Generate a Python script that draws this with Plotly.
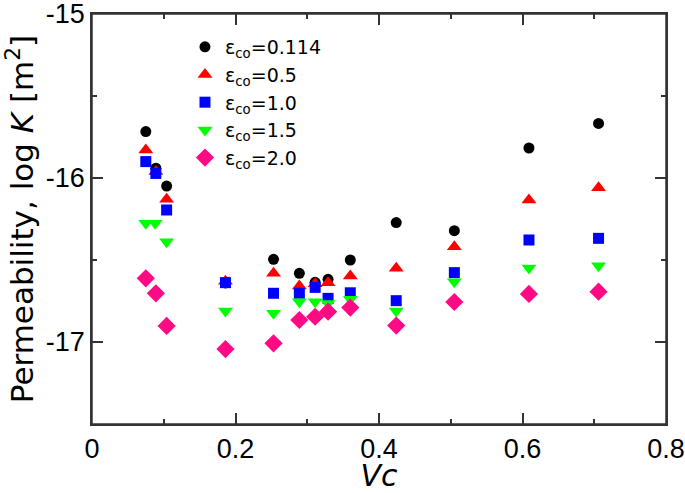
import plotly.graph_objects as go

# Data (Vc, log K)
vc_0114 = [0.075, 0.089, 0.104, 0.186, 0.253, 0.289, 0.311, 0.329, 0.360, 0.424, 0.505, 0.609, 0.706]
k_0114 = [-15.717, -15.94, -16.049, -16.64, -16.496, -16.581, -16.636, -16.618, -16.50, -16.272, -16.321, -15.817, -15.667]

vc_05 = [0.075, 0.089, 0.104, 0.186, 0.253, 0.289, 0.311, 0.329, 0.360, 0.424, 0.505, 0.609, 0.706]
k_05 = [-15.829, -15.96, -16.13, -16.63, -16.581, -16.659, -16.645, -16.638, -16.598, -16.551, -16.419, -16.134, -16.059]

vc_10 = [0.075, 0.089, 0.104, 0.186, 0.253, 0.289, 0.311, 0.329, 0.360, 0.424, 0.505, 0.609, 0.706]
k_10 = [-15.90, -15.972, -16.195, -16.638, -16.703, -16.703, -16.667, -16.734, -16.70, -16.748, -16.577, -16.378, -16.368]

vc_15 = [0.075, 0.088, 0.104, 0.186, 0.253, 0.289, 0.311, 0.329, 0.360, 0.424, 0.505, 0.609, 0.706]
k_15 = [-16.276, -16.276, -16.388, -16.811, -16.825, -16.754, -16.754, -16.765, -16.74, -16.811, -16.632, -16.549, -16.535]

vc_20 = [0.075, 0.089, 0.104, 0.186, 0.253, 0.289, 0.311, 0.329, 0.360, 0.424, 0.505, 0.609, 0.706]
k_20 = [-16.612, -16.703, -16.902, -17.043, -17.008, -16.866, -16.846, -16.815, -16.79, -16.90, -16.756, -16.707, -16.693]

series_names = ["ε<sub>co</sub>=0.114", "ε<sub>co</sub>=0.5", "ε<sub>co</sub>=1.0",
                "ε<sub>co</sub>=1.5", "ε<sub>co</sub>=2.0"]
x_range = [0, 0.8]
y_range = [-17.5, -15]
x_tick_vals = [0, 0.2, 0.4, 0.6, 0.8]
x_tick_text = ["0", "0.2", "0.4", "0.6", "0.8"]
x_minor_vals = [0.1, 0.3, 0.5, 0.7]
y_tick_vals = [-17, -16, -15]
y_tick_text = ["-17", "-16", "-15"]
y_minor_vals = [-17.5, -16.5, -15.5]

series = [
    (vc_0114, k_0114, "circle", "#000000", 11),
    (vc_05, k_05, "triangle-up", "#FF0000", 13),
    (vc_10, k_10, "square", "#0000FF", 11),
    (vc_15, k_15, "triangle-down", "#00FF00", 13),
    (vc_20, k_20, "diamond", "#FF0A84", 14),
]

fig = go.Figure()
for (xs, ys, sym, col, sz), name in zip(series, series_names):
    fig.add_trace(go.Scatter(
        x=xs, y=ys, mode="markers", name=name,
        marker=dict(symbol=sym, color=col, size=sz, line=dict(width=0)),
    ))

font_family = "Arial, Liberation Sans, sans-serif"
title_family = "DejaVu Sans, Arial, sans-serif"
line_col = "#333333"
axis_common = dict(
    showline=True, linecolor=line_col, linewidth=1.5, mirror="allticks",
    ticks="inside", ticklen=11, tickwidth=1.5, tickcolor=line_col,
    showgrid=False, zeroline=False, automargin=False,
    ticklabeloverflow="allow",
    tickfont=dict(family=font_family, size=27, color="#000000"),
)
minor_common = dict(
    showline=False, ticks="inside", ticklen=5, tickwidth=1.5, tickcolor=line_col,
    mirror="allticks", showgrid=False, zeroline=False, showticklabels=False,
    automargin=False,
)

# helper trace (empty) so the minor-tick axes are rendered
fig.add_trace(go.Scatter(x=[], y=[], xaxis="x2", yaxis="y2", showlegend=False, hoverinfo="skip"))

fig.update_layout(
    xaxis=dict(
        range=x_range, tickvals=x_tick_vals, ticktext=x_tick_text,
        title=dict(text="<i>Vc</i>", font=dict(family=title_family, size=30, color="#000000"), standoff=0),
        **axis_common,
    ),
    yaxis=dict(
        range=y_range, tickvals=y_tick_vals, ticktext=y_tick_text,
        title=dict(text="\u00a0\u00a0Permeability, log <i>K</i> [m<sup>2</sup>]",
                   font=dict(family=title_family, size=31, color="#000000"), standoff=4),
        **axis_common,
    ),
    xaxis2=dict(overlaying="x", anchor="y2", range=x_range, tickvals=x_minor_vals, **minor_common),
    yaxis2=dict(overlaying="y", anchor="x2", range=y_range, tickvals=y_minor_vals, **minor_common),
    shapes=[dict(type="rect", xref="paper", yref="paper", x0=0, y0=0, x1=1, y1=1,
                 line=dict(color=line_col, width=1.5), fillcolor="rgba(0,0,0,0)", layer="above")],
    width=685, height=493,
    margin=dict(l=92, r=19, t=14, b=69),
    paper_bgcolor="white", plot_bgcolor="white",
    showlegend=True,
    legend=dict(
        x=0.162, y=0.966, xanchor="left", yanchor="top",
        bgcolor="rgba(0,0,0,0)", borderwidth=0,
        font=dict(family="DejaVu Sans, Arial, sans-serif", size=19, color="#000000"),
        tracegroupgap=0, itemwidth=30,
    ),
)

fig.write_html("out.html", config={"displayModeBar": False},
               post_script="document.body.style.margin='0px';")
